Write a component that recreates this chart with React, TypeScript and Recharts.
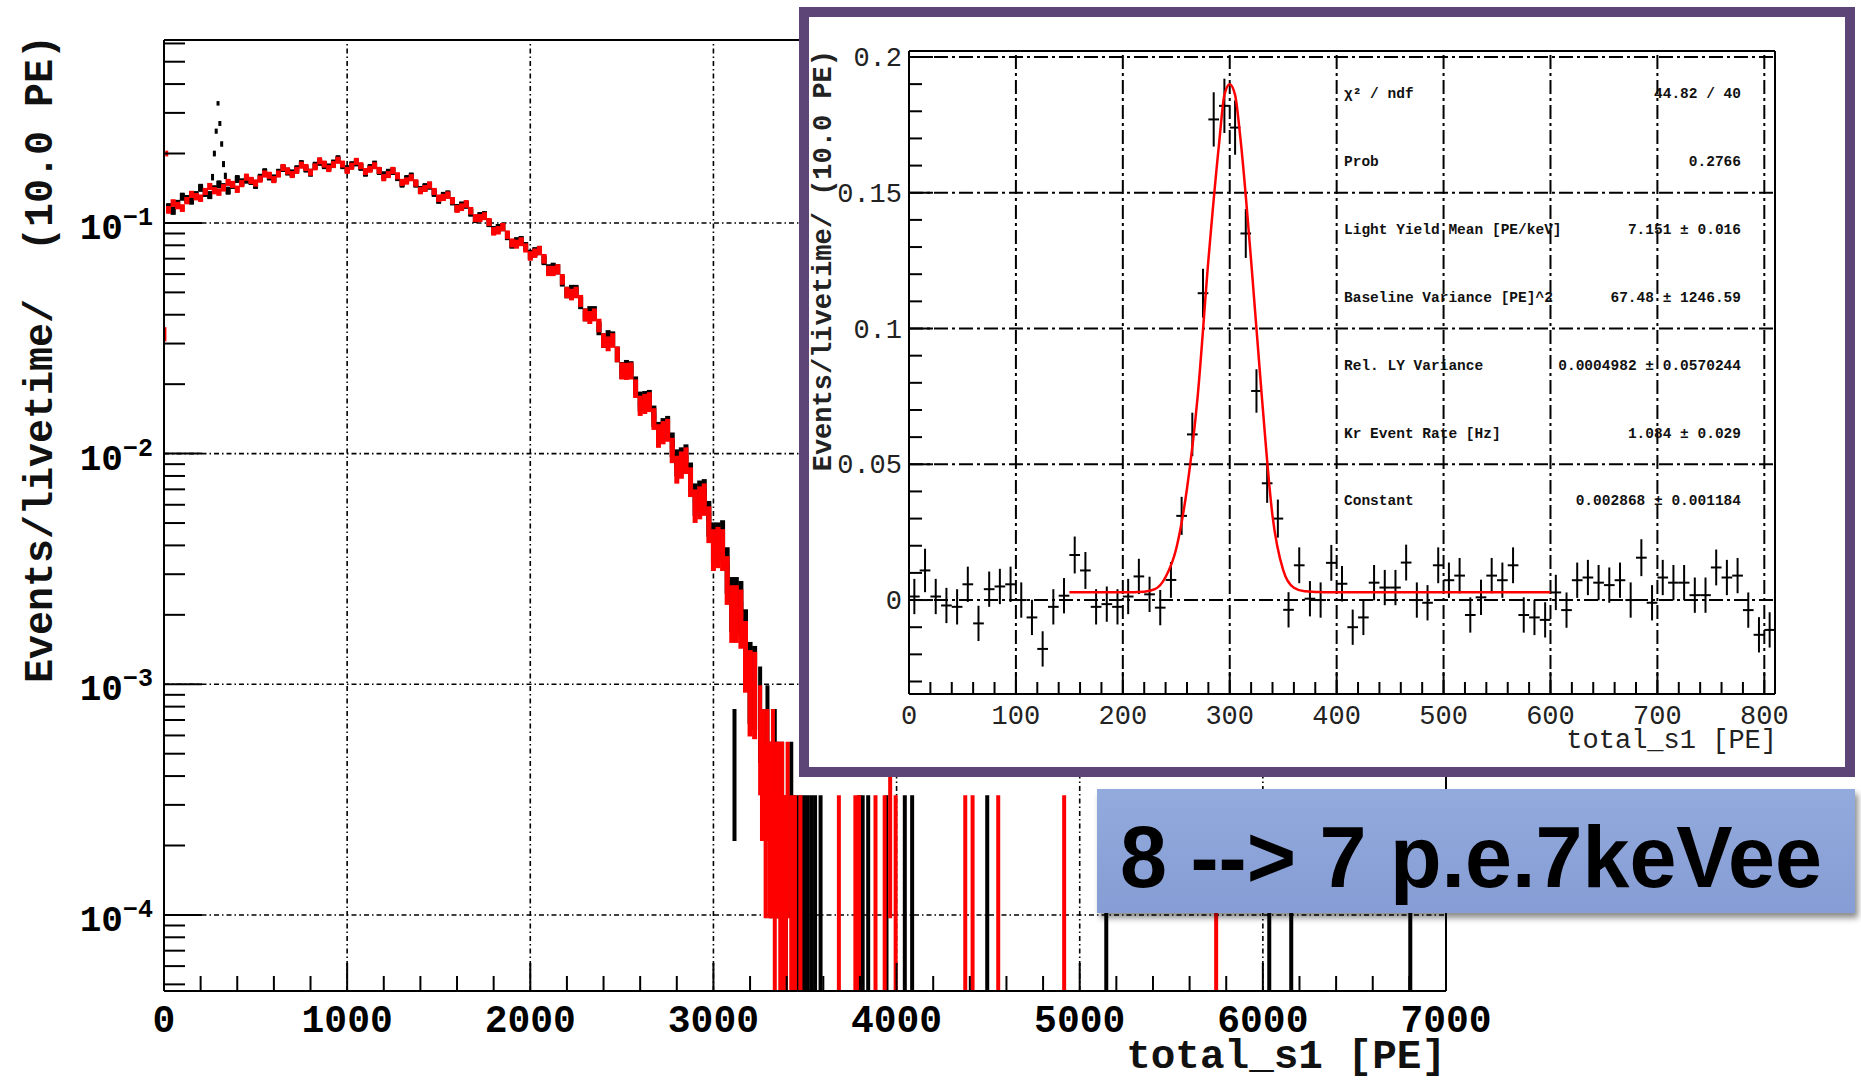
import React from 'react';
import { ComposedChart, Scatter, Line, XAxis, YAxis, ErrorBar, ReferenceLine } from 'recharts';

const MONO = "'Liberation Mono', 'DejaVu Sans Mono', monospace";
const SANS = "'Liberation Sans', Arial, sans-serif";

// ---- main spectrum (10 PE bins, values read every 25 PE along the band) ----
const mainBins = [
  25, 75, 125, 175, 225, 275, 325, 375, 425, 475,
  525, 575, 625, 675, 725, 775, 825, 875, 925, 975,
  1025, 1075, 1125, 1175, 1225, 1275, 1325, 1375, 1425, 1475,
  1525, 1575, 1625, 1675, 1725, 1775, 1825, 1875, 1925, 1975,
  2025, 2075, 2125, 2175, 2225, 2275, 2325, 2375, 2425, 2475,
  2525, 2575, 2625, 2675, 2725, 2775, 2825, 2875, 2925, 2975,
  3025, 3075, 3125, 3175, 3225,
];
const blackRate = [
  0.117, 0.121, 0.127, 0.132, 0.135, 0.140, 0.143, 0.146, 0.150, 0.152,
  0.157, 0.159, 0.165, 0.167, 0.171, 0.172, 0.177, 0.178, 0.181, 0.178,
  0.178, 0.175, 0.173, 0.168, 0.165, 0.158, 0.155, 0.148, 0.143, 0.135,
  0.131, 0.124, 0.119, 0.111, 0.107, 0.100, 0.095, 0.088, 0.083, 0.079,
  0.075, 0.069, 0.064, 0.056, 0.051, 0.045, 0.041, 0.035, 0.032, 0.027,
  0.0235, 0.0198, 0.0170, 0.0146, 0.0128, 0.0110, 0.0094, 0.0080, 0.0066, 0.0053,
  0.0042, 0.0032, 0.0023, 0.0016, 0.00105,
];
const redRate = [
  0.114, 0.119, 0.125, 0.130, 0.137, 0.138, 0.142, 0.147, 0.148, 0.153,
  0.155, 0.161, 0.163, 0.168, 0.169, 0.174, 0.175, 0.180, 0.179, 0.180,
  0.176, 0.177, 0.171, 0.169, 0.162, 0.160, 0.152, 0.149, 0.141, 0.137,
  0.129, 0.125, 0.117, 0.113, 0.105, 0.101, 0.093, 0.089, 0.081, 0.078,
  0.074, 0.070, 0.062, 0.057, 0.049, 0.046, 0.039, 0.036, 0.030, 0.027,
  0.0228, 0.0192, 0.0165, 0.0142, 0.0124, 0.0104, 0.0090, 0.0076, 0.0062, 0.0050,
  0.0040, 0.0029, 0.0021, 0.0014, 0.00098,
];
// in-between bins (upper / lower edges of the scattered band)
const midBins = [
  50, 100, 150, 200, 250, 300, 350, 400, 450, 500,
  550, 600, 650, 700, 750, 800, 850, 900, 950, 1000,
  1050, 1100, 1150, 1200, 1250, 1300, 1350, 1400, 1450, 1500,
  1550, 1600, 1650, 1700, 1750, 1800, 1850, 1900, 1950, 2000,
  2050, 2100, 2150, 2200, 2250, 2300, 2350, 2400, 2450, 2500,
  2550, 2600, 2650, 2700, 2750, 2800, 2850, 2900, 2950, 3000,
  3050, 3100, 3150, 3200,
];
const blackRateMid = [
  0.113, 0.130, 0.125, 0.142, 0.132, 0.147, 0.138, 0.155, 0.154, 0.146,
  0.166, 0.156, 0.173, 0.164, 0.180, 0.165, 0.184, 0.174, 0.189, 0.171,
  0.183, 0.165, 0.179, 0.161, 0.168, 0.148, 0.159, 0.139, 0.145, 0.126,
  0.133, 0.116, 0.120, 0.104, 0.108, 0.093, 0.096, 0.081, 0.084, 0.073,
  0.076, 0.063, 0.063, 0.050, 0.051, 0.040, 0.041, 0.031, 0.0316, 0.023,
  0.0232, 0.0169, 0.0172, 0.0123, 0.0131, 0.0092, 0.0097, 0.0064, 0.0067, 0.0042,
  0.0043, 0.0023, 0.0022, 0.0011,
];
const redRateMid = [
  0.122, 0.116, 0.133, 0.128, 0.144, 0.136, 0.150, 0.140, 0.158, 0.149,
  0.163, 0.154, 0.174, 0.162, 0.178, 0.166, 0.186, 0.172, 0.187, 0.169,
  0.185, 0.167, 0.177, 0.157, 0.169, 0.150, 0.157, 0.138, 0.146, 0.128,
  0.132, 0.115, 0.121, 0.105, 0.107, 0.092, 0.096, 0.082, 0.083, 0.072,
  0.076, 0.062, 0.063, 0.050, 0.050, 0.040, 0.040, 0.031, 0.031, 0.0229,
  0.0229, 0.0162, 0.0168, 0.0120, 0.0127, 0.0086, 0.0094, 0.0060, 0.0064, 0.0039,
  0.0039, 0.0021, 0.0020, 0.0010,
];

// Kr peak only in the black histogram
const krPeakBins = [265, 275, 285, 295, 305, 315, 325, 335];
const krPeakRate = [0.158, 0.200, 0.250, 0.330, 0.270, 0.220, 0.180, 0.160];

// first red bins at 0 PE
const redEdgeBins = [5, 15];
const redEdgeRate = [0.033, 0.200];

// low statistics tail: events per 10 PE bin
const ratePerEvent = 1.65e-4;
const blackTailBins = [
  3115, 3255, 3275, 3295, 3315, 3335, 3355, 3375, 3395, 3425, 3435, 3455, 3475, 3495,
  3515, 3535, 3555, 3585, 3795, 3815, 3845, 3945, 4045, 4085, 4495, 5145, 6035, 6155, 6805,
];
const blackTailCounts = [
  3, 5, 3, 4, 2, 3, 2, 2, 1, 2, 1, 1, 1, 1,
  1, 1, 1, 1, 1, 1, 1, 1, 1, 1, 1, 1, 1, 1, 1,
];
const redTailBins = [
  3255, 3265, 3275, 3285, 3295, 3305, 3315, 3325, 3335, 3345, 3355, 3365, 3375, 3385, 3395,
  3405, 3425, 3445, 3475, 3685, 3775, 3795, 3885, 3935, 3965, 3995, 4375, 4415, 4555, 4915, 5745,
];
const redTailCounts = [
  4, 3, 3, 2, 3, 2, 2, 3, 1, 2, 2, 1, 2, 1, 1,
  2, 1, 1, 1, 1, 1, 1, 1, 1, 2, 1, 1, 1, 1, 1, 1,
];

const xMajorTicks = [0, 1000, 2000, 3000, 4000, 5000, 6000, 7000];
const yMajorTicks = [1e-4, 1e-3, 1e-2, 1e-1];
const Y_MIN = 4.68e-5;
const Y_MAX = 0.621;

// ---- inset: Kr peak with fit ----
const insetBins = [
  5, 15, 25, 35, 45, 55, 65, 75, 85, 95, 105, 115, 125, 135, 145, 155, 165, 175, 185, 195,
  205, 215, 225, 235, 245, 255, 265, 275, 285, 295, 305, 315, 325, 335, 345, 355, 365, 375, 385, 395,
  405, 415, 425, 435, 445, 455, 465, 475, 485, 495, 505, 515, 525, 535, 545, 555, 565, 575, 585, 595,
  605, 615, 625, 635, 645, 655, 665, 675, 685, 695, 705, 715, 725, 735, 745, 755, 765, 775, 785, 795,
  805,
];
const insetRate = [
  0.0013, 0.0109, 0.0013, -0.0020, -0.0025, 0.0058, -0.0086, 0.0040, 0.0050, 0.0058,
  0.0000, -0.0064, -0.0180, -0.0025, 0.0016, 0.0166, 0.0109, -0.0025, -0.0015, -0.0025,
  0.0013, 0.0087, 0.0021, -0.0028, 0.0074, 0.0310, 0.0610, 0.1130, 0.1770, 0.1820,
  0.1740, 0.1350, 0.0770, 0.0430, 0.0300, -0.0036, 0.0128, 0.0005, 0.0000, 0.0137,
  0.0060, -0.0100, -0.0064, 0.0064, 0.0046, 0.0046, 0.0138, 0.0000, -0.0010, 0.0128,
  0.0073, 0.0090, -0.0055, 0.0010, 0.0090, 0.0073, 0.0128, -0.0055, -0.0064, -0.0073,
  0.0028, -0.0037, 0.0073, 0.0083, 0.0064, 0.0055, 0.0073, 0.0000, 0.0156, -0.0010,
  0.0083, 0.0064, 0.0064, 0.0018, 0.0018, 0.0120, 0.0083, 0.0090, -0.0037, -0.0128,
  -0.0110,
];
const insetErr = [
  0.0065, 0.0080, 0.0065, 0.0065, 0.0065, 0.0065, 0.0065, 0.0065, 0.0065, 0.0065,
  0.0065, 0.0065, 0.0065, 0.0065, 0.0065, 0.0068, 0.0068, 0.0065, 0.0065, 0.0065,
  0.0065, 0.0065, 0.0065, 0.0065, 0.0066, 0.0070, 0.0080, 0.0090, 0.0100, 0.0100,
  0.0100, 0.0090, 0.0080, 0.0072, 0.0070, 0.0065, 0.0066, 0.0065, 0.0065, 0.0066,
  0.0065, 0.0065, 0.0065, 0.0065, 0.0065, 0.0065, 0.0066, 0.0065, 0.0065, 0.0066,
  0.0065, 0.0065, 0.0065, 0.0065, 0.0065, 0.0065, 0.0066, 0.0065, 0.0065, 0.0065,
  0.0065, 0.0065, 0.0065, 0.0065, 0.0065, 0.0065, 0.0065, 0.0065, 0.0068, 0.0065,
  0.0065, 0.0065, 0.0065, 0.0065, 0.0065, 0.0066, 0.0065, 0.0065, 0.0065, 0.0065,
  0.0065,
];
const fitX = [150, 200, 220, 230, 240, 250, 260, 270, 280, 290, 295, 300, 305, 310, 320, 330, 340, 350, 360, 370, 380, 400, 600];
const fitY = [0.0029, 0.0029, 0.0031, 0.0040, 0.0085, 0.019, 0.041, 0.075, 0.125, 0.168, 0.186, 0.190, 0.186, 0.170, 0.125, 0.075, 0.031, 0.011, 0.0045, 0.0032, 0.0030, 0.0029, 0.0029];

const insetXLabels = [0, 100, 200, 300, 400, 500, 600, 700, 800];
const insetYLabels = [0, 0.05, 0.1, 0.15, 0.2];
const INSET_X_MAX = 810;
const INSET_Y_MIN = -0.0346;
const INSET_Y_MAX = 0.2022;

const statNames = [
  'χ² / ndf',
  'Prob',
  'Light Yield Mean [PE/keV]',
  'Baseline Variance [PE]^2',
  'Rel. LY Variance',
  'Kr Event Rate [Hz]',
  'Constant',
];
const statValues = [
  '44.82 / 40',
  '0.2766',
  '7.151 ± 0.016',
  '67.48 ± 1246.59',
  '0.0004982 ± 0.0570244',
  '1.084 ± 0.029',
  '0.002868 ± 0.001184',
];

// ---- helpers ----
function ratePoints(bins: number[], rates: number[], half: number) {
  return bins.map((x, i) => {
    const y = rates[i];
    const err = Math.sqrt(y * ratePerEvent);
    return { x, y, ey: [Math.min(err, y - Y_MIN), err], ex: half };
  });
}

function countPoints(bins: number[], counts: number[]) {
  return bins.map((x, i) => {
    const y = counts[i] * ratePerEvent;
    const err = Math.sqrt(counts[i]) * ratePerEvent;
    return { x, y, ey: [Math.min(err, y - Y_MIN), err], ex: 5 };
  });
}

const blackMain = [...ratePoints(mainBins, blackRate, 12.5), ...ratePoints(midBins, blackRateMid, 12.5)];
const redMain = [...ratePoints(mainBins, redRate, 12.5), ...ratePoints(midBins, redRateMid, 12.5)];
const blackKr = ratePoints(krPeakBins, krPeakRate, 5);
const redEdge = ratePoints(redEdgeBins, redEdgeRate, 5);
const blackTail = countPoints(blackTailBins, blackTailCounts);
const redTail = countPoints(redTailBins, redTailCounts);

const insetPoints = insetBins.map((x, i) => ({ x, y: insetRate[i], ey: insetErr[i], ex: 5 }));
const fitPoints = fitX.map((x, i) => ({ x, y: fitY[i] }));

const mainXTicks = Array.from({ length: 36 }, (_, i) => i * 200);
const mainYTicks: number[] = [];
[1e-5, 1e-4, 1e-3, 1e-2, 1e-1].forEach((d) => {
  for (let m = 1; m <= 9; m++) {
    const v = m * d;
    if (v >= Y_MIN && v <= Y_MAX) mainYTicks.push(v);
  }
});
const insetXTicks = Array.from({ length: 41 }, (_, i) => i * 20);
const insetYTicks = Array.from({ length: 24 }, (_, i) => +(-0.03 + i * 0.01).toFixed(2));

const noMark = () => <g />;

function MainXTick({ x, y, payload }: any) {
  const v = payload.value;
  const major = xMajorTicks.includes(v);
  return (
    <g>
      <line x1={x} x2={x} y1={y} y2={y - (major ? 28 : 15)} stroke="#000" strokeWidth={2} />
      {major && (
        <text x={x} y={y + 41} textAnchor="middle" fontFamily={MONO} fontWeight="bold" fontSize={38} fill="#000">
          {v}
        </text>
      )}
    </g>
  );
}

function MainYTick({ x, y, payload }: any) {
  const v = payload.value;
  const major = yMajorTicks.some((t) => Math.abs(t - v) / t < 1e-6);
  const exp = Math.round(Math.log10(v));
  return (
    <g>
      <line x1={x} x2={x + (major ? 38 : 21)} y1={y} y2={y} stroke="#000" strokeWidth={2} />
      {major && (
        <text x={x - 11} y={y + 16} textAnchor="end" fontFamily={MONO} fontWeight="bold" fontSize={36} fill="#000">
          10
          <tspan fontSize={25} dy={-14}>{'\u2212' + -exp}</tspan>
        </text>
      )}
    </g>
  );
}

function InsetXTick({ x, y, payload }: any) {
  const v = payload.value;
  const major = insetXLabels.includes(v);
  return (
    <g>
      <line x1={x} x2={x} y1={y} y2={y - (major ? 22 : 12)} stroke="#000" strokeWidth={2} />
      {major && (
        <text x={x} y={y + 30} textAnchor="middle" fontFamily={MONO} fontSize={27} fill="#222">
          {v}
        </text>
      )}
    </g>
  );
}

function InsetYTick({ x, y, payload }: any) {
  const v = payload.value;
  const major = insetYLabels.some((t) => Math.abs(t - v) < 1e-9);
  return (
    <g>
      <line x1={x} x2={x + (major ? 24 : 13)} y1={y} y2={y} stroke="#000" strokeWidth={2} />
      {major && (
        <text x={x - 7} y={y + 9} textAnchor="end" fontFamily={MONO} fontSize={27} fill="#222">
          {String(v)}
        </text>
      )}
    </g>
  );
}

function HistSeries({ data, color, vWidth, hWidth }: { data: any[]; color: string; vWidth: number; hWidth: number }) {
  return (
    <Scatter data={data} shape={noMark} isAnimationActive={false}>
      <ErrorBar dataKey="ey" direction="y" width={0} stroke={color} strokeWidth={vWidth} isAnimationActive={false} />
      <ErrorBar dataKey="ex" direction="x" width={0} stroke={color} strokeWidth={hWidth} isAnimationActive={false} />
    </Scatter>
  );
}

function MainChart() {
  return (
    <ComposedChart width={1861} height={1081} margin={{ top: 40, right: 415, bottom: 30, left: 64 }}>
      <XAxis
        type="number"
        dataKey="x"
        domain={[0, 7000]}
        ticks={mainXTicks}
        interval={0}
        allowDataOverflow
        height={60}
        tickSize={0}
        tickMargin={0}
        tickLine={false}
        axisLine={{ stroke: '#000', strokeWidth: 2 }}
        tick={<MainXTick />}
      />
      <YAxis
        type="number"
        dataKey="y"
        scale="log"
        domain={[Y_MIN, Y_MAX]}
        ticks={mainYTicks}
        interval={0}
        allowDataOverflow
        width={100}
        tickSize={0}
        tickMargin={0}
        tickLine={false}
        axisLine={{ stroke: '#000', strokeWidth: 2 }}
        tick={<MainYTick />}
      />
      {xMajorTicks.slice(1, -1).map((v) => (
        <ReferenceLine key={'gx' + v} x={v} stroke="#000" strokeWidth={1.6} strokeDasharray="5 3 1.5 3" />
      ))}
      {yMajorTicks.map((v) => (
        <ReferenceLine key={'gy' + v} y={v} stroke="#000" strokeWidth={1.6} strokeDasharray="5 3 1.5 3" />
      ))}
      <HistSeries data={blackMain} color="#000" vWidth={5} hWidth={8} />
      <HistSeries data={blackKr} color="#000" vWidth={3} hWidth={3} />
      <HistSeries data={blackTail} color="#000" vWidth={4} hWidth={3} />
      <HistSeries data={redMain} color="#ff0000" vWidth={5} hWidth={7} />
      <HistSeries data={redEdge} color="#ff0000" vWidth={3} hWidth={3} />
      <HistSeries data={redTail} color="#ff0000" vWidth={4} hWidth={3} />
      <ReferenceLine y={Y_MAX} stroke="#000" strokeWidth={2} />
      <ReferenceLine x={7000} stroke="#000" strokeWidth={2} />
    </ComposedChart>
  );
}

function InsetChart() {
  return (
    <ComposedChart width={1036} height={750} margin={{ top: 34, right: 70, bottom: 13, left: 10 }}>
      <XAxis
        type="number"
        dataKey="x"
        domain={[0, INSET_X_MAX]}
        ticks={insetXTicks}
        interval={0}
        allowDataOverflow
        height={60}
        tickSize={0}
        tickMargin={0}
        tickLine={false}
        axisLine={{ stroke: '#000', strokeWidth: 2 }}
        tick={<InsetXTick />}
      />
      <YAxis
        type="number"
        dataKey="y"
        domain={[INSET_Y_MIN, INSET_Y_MAX]}
        ticks={insetYTicks}
        interval={0}
        allowDataOverflow
        width={90}
        tickSize={0}
        tickMargin={0}
        tickLine={false}
        axisLine={{ stroke: '#000', strokeWidth: 2 }}
        tick={<InsetYTick />}
      />
      {insetXLabels.slice(1).map((v) => (
        <ReferenceLine key={'ix' + v} x={v} stroke="#000" strokeWidth={2} strokeDasharray="14 4 3 4" />
      ))}
      {insetYLabels.map((v) => (
        <ReferenceLine key={'iy' + v} y={v} stroke="#000" strokeWidth={2} strokeDasharray="14 4 3 4" />
      ))}
      <Scatter data={insetPoints} shape={noMark} isAnimationActive={false}>
        <ErrorBar dataKey="ey" direction="y" width={0} stroke="#000" strokeWidth={2} isAnimationActive={false} />
        <ErrorBar dataKey="ex" direction="x" width={0} stroke="#000" strokeWidth={2} isAnimationActive={false} />
      </Scatter>
      <Line data={fitPoints} dataKey="y" type="monotone" stroke="#ff0000" strokeWidth={2.5} dot={false} isAnimationActive={false} />
      <ReferenceLine y={INSET_Y_MAX} stroke="#000" strokeWidth={2} />
      <ReferenceLine x={INSET_X_MAX} stroke="#000" strokeWidth={2} />
    </ComposedChart>
  );
}

export default function App() {
  return (
    <div style={{ position: 'absolute', left: 0, top: 0, width: 1861, height: 1080, background: '#fff', overflow: 'hidden' }}>
      <div style={{ position: 'absolute', left: 0, top: 0 }}>
        <MainChart />
      </div>
      <svg width={1861} height={1080} style={{ position: 'absolute', left: 0, top: 0, pointerEvents: 'none' }}>
        <text
          transform="translate(52,35) rotate(-90)"
          textAnchor="end"
          fontFamily={MONO}
          fontWeight="bold"
          fontSize={40}
          fill="#111"
          style={{ whiteSpace: 'pre' }}
        >
          {'Events/livetime/  (10.0 PE)'}
        </text>
        <text x={1446} y={1068} textAnchor="end" fontFamily={MONO} fontWeight="bold" fontSize={41} fill="#111">
          total_s1 [PE]
        </text>
      </svg>

      <div
        style={{
          position: 'absolute',
          left: 799,
          top: 7,
          width: 1056,
          height: 770,
          boxSizing: 'border-box',
          border: '10px solid #5d4577',
          background: '#fff',
        }}
      >
        <InsetChart />
        <svg width={1036} height={750} style={{ position: 'absolute', left: 0, top: 0, pointerEvents: 'none' }}>
          <text
            transform="translate(22,33) rotate(-90)"
            textAnchor="end"
            fontFamily={MONO}
            fontWeight="bold"
            fontSize={27}
            fill="#222"
            style={{ whiteSpace: 'pre' }}
          >
            {'Events/livetime/ (10.0 PE)'}
          </text>
          <text x={968} y={731} textAnchor="end" fontFamily={MONO} fontSize={27} fill="#222">
            total_s1 [PE]
          </text>
          {statNames.map((name, i) => (
            <g key={name}>
              <text x={535} y={81 + i * 67.9} fontFamily={MONO} fontWeight="bold" fontSize={14.5} fill="#111">
                {name}
              </text>
              <text x={932} y={81 + i * 67.9} textAnchor="end" fontFamily={MONO} fontWeight="bold" fontSize={14.5} fill="#111">
                {statValues[i]}
              </text>
            </g>
          ))}
        </svg>
      </div>

      <div
        style={{
          position: 'absolute',
          left: 1097,
          top: 789,
          width: 758,
          height: 124,
          background: 'linear-gradient(to bottom, #93aadd, #869dd5)',
          boxShadow: '3px 5px 6px rgba(0,0,0,0.45)',
        }}
      >
        <svg width={758} height={124}>
          <text
            x={23}
            y={98}
            fontFamily={SANS}
            fontWeight="bold"
            fontSize={88}
            fill="#000"
            textLength={702}
            lengthAdjust="spacingAndGlyphs"
            style={{ whiteSpace: 'pre' }}
          >
            {'8 --> 7 p.e.7keVee'}
          </text>
        </svg>
      </div>
    </div>
  );
}
